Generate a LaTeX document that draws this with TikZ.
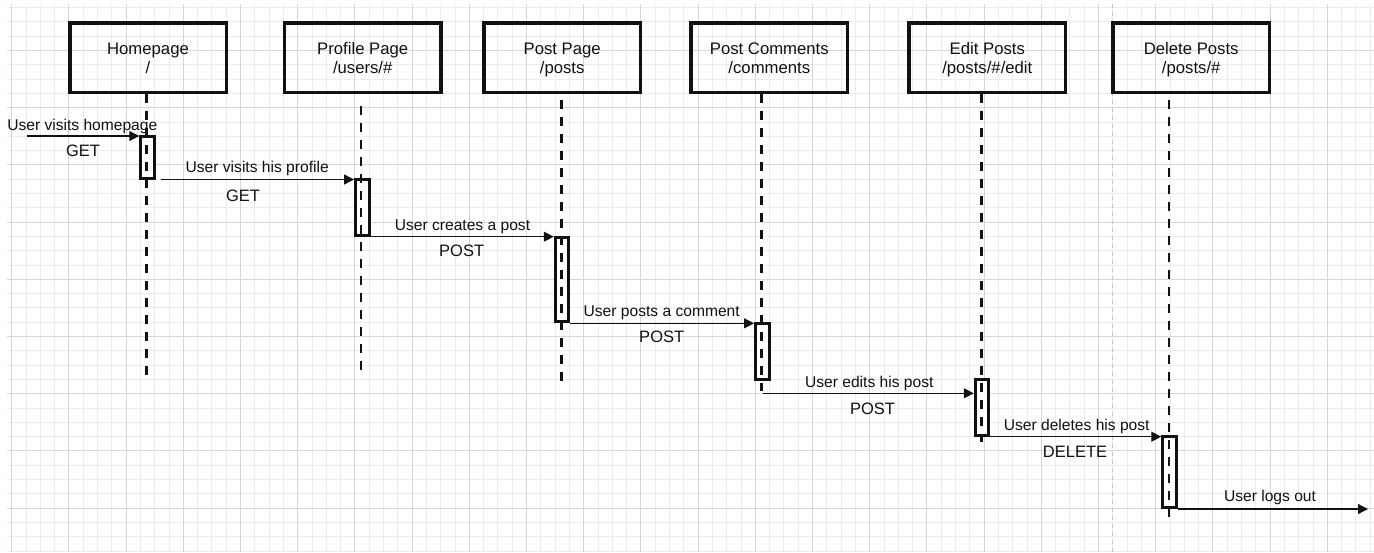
\documentclass[tikz,border=0pt]{standalone}
\usepackage{fontspec}
\setmainfont{Liberation Sans}
\usetikzlibrary{arrows.meta}
\definecolor{gridminor}{HTML}{ECECEC}
\definecolor{gridmajor}{HTML}{D6D6D6}
\definecolor{pagebreak}{HTML}{C4C4C4}
\definecolor{ink}{HTML}{111111}

\begin{document}
\begin{tikzpicture}[x=1pt,y=-1pt,
  headbox/.style={draw=ink, line width=3.5pt, minimum width=156.5pt, minimum height=69.5pt, inner sep=0pt},
  ttl/.style={anchor=base, inner sep=0pt, font=\fontsize{16.7}{19}\selectfont, text=ink},
  lbl/.style={anchor=base, inner sep=0pt, font=\fontsize{15.6}{18}\selectfont, text=ink},
  verb/.style={anchor=base, inner sep=0pt, font=\fontsize{16.5}{19}\selectfont, text=ink},
  actbox/.style={draw=ink, fill=white, line width=3pt, minimum width=13.5pt, inner sep=0pt},
  life/.style={draw=ink, line width=2.8pt, dash pattern=on 9pt off 8pt},
  msg/.style={draw=ink, line width=1.2pt, -{Triangle[length=10pt,width=10pt]}},
  gminor/.style={draw=gridminor, line width=0.9pt},
  gmajor/.style={draw=gridmajor, line width=0.9pt},
]
% canvas
\fill[white] (0,0) rectangle (1374,552);
\useasboundingbox (0,0) rectangle (1374,552);

% background grid
\begin{scope}
  \clip (7,4) rectangle (1374,552);
  \foreach \i in {0,...,95} \draw[gminor] ({11.7+14.3*\i},4) -- ({11.7+14.3*\i},552);
  \foreach \j in {0,...,38} \draw[gminor] (7,{7.6+14.3*\j}) -- (1374,{7.6+14.3*\j});
  \foreach \i in {0,...,23} \draw[gmajor] ({11.7+57.2*\i},4) -- ({11.7+57.2*\i},552);
  \foreach \j in {0,...,8} \draw[gmajor] (7,{50.5+57.2*\j}) -- (1374,{50.5+57.2*\j});
\end{scope}

% page break marker
\coordinate (pbtop) at (1112,4);
\coordinate (pbbot) at (1112,552);
\draw[pagebreak, line width=0.9pt, dash pattern=on 4pt off 4pt] (pbtop) -- (pbbot);

% participant heads
\node[headbox] (home) at (148,57.5) {};
\node[headbox] (prof) at (362.7,57.5) {};
\node[headbox] (post) at (562.2,57.5) {};
\node[headbox] (comm) at (769.3,57.5) {};
\node[headbox] (edit) at (987.3,57.5) {};
\node[headbox] (dele) at (1191.2,57.5) {};

\node[ttl] (homeA) at (148,54.5) {Homepage};
\node[ttl] (homeB) at (148,73.5) {/};
\node[ttl] (profA) at (362.7,54.5) {Profile Page};
\node[ttl] (profB) at (362.7,73.5) {/users/\#};
\node[ttl] (postA) at (562.2,54.5) {Post Page};
\node[ttl] (postB) at (562.2,73.5) {/posts};
\node[ttl] (commA) at (769.3,54.5) {Post Comments};
\node[ttl] (commB) at (769.3,73.5) {/comments};
\node[ttl] (editA) at (987.3,54.5) {Edit Posts};
\node[ttl] (editB) at (987.3,73.5) {/posts/\#/edit};
\node[ttl] (deleA) at (1191.2,54.5) {Delete Posts};
\node[ttl] (deleB) at (1191.2,73.5) {/posts/\#};

% activation bars
\node[actbox, minimum height=41.5pt] (a1) at (147.5,157.25) {};
\node[actbox, minimum height=55.7pt] (a2) at (362.3,207.35) {};
\node[actbox, minimum height=84.3pt] (a3) at (562,279.65) {};
\node[actbox, minimum height=55.7pt] (a4) at (762.3,351.35) {};
\node[actbox, minimum height=55.4pt] (a5) at (982,407.5) {};
\node[actbox, minimum height=71pt] (a6) at (1169.5,472) {};

% lifelines
\coordinate (s1) at (146.7,94);   \coordinate (e1) at (146.7,375);
\coordinate (s2) at (361,106);    \coordinate (e2) at (361,372);
\coordinate (s3) at (561.7,100);  \coordinate (e3) at (561.7,382);
\coordinate (s4) at (761.7,94);   \coordinate (e4) at (761.7,391);
\coordinate (s5) at (981.7,94);   \coordinate (e5) at (981.7,442);
\coordinate (s6) at (1169,100);   \coordinate (e6) at (1169,520);
\foreach \k in {1,...,6} \draw[life] (s\k) -- (e\k);

% redraw bar outlines over the lifelines
\foreach \k in {1,...,6} \draw[ink, line width=3pt] ([shift={(1.5pt,-1.5pt)}]a\k.north west) rectangle ([shift={(-1.5pt,1.5pt)}]a\k.south east);

% messages
\coordinate (entry) at (27,136);
\coordinate (m5) at (762.5,393.3);
\coordinate (exit) at (1368,509);
\draw[msg] (entry) -- (entry -| a1.west);
\draw[msg] ([xshift=5pt]a1.south east) -- (a1.south east -| a2.west);
\draw[msg] (a2.south east) -- (a2.south east -| a3.west);
\draw[msg] (a3.south east) -- (a3.south east -| a4.west);
\draw[msg] (m5) -- (m5 -| a5.west);
\draw[msg] (a5.south east) -- (a5.south east -| a6.west);
\draw[msg] (a6.south east) -- (exit);

% message labels
\node[lbl] (t1) at (82.3,130.5) {User visits homepage};
\node[verb] (v1) at (83,156.7) {GET};
\node[lbl] (t2) at (257.2,172.7) {User visits his profile};
\node[verb] (v2) at (243,201) {GET};
\node[lbl] (t3) at (462.5,230) {User creates a post};
\node[verb] (v3) at (461.7,256.7) {POST};
\node[lbl] (t4) at (661.7,316) {User posts a comment};
\node[verb] (v4) at (661.7,342.7) {POST};
\node[lbl] (t5) at (869.3,387.3) {User edits his post};
\node[verb] (v5) at (872.5,414.3) {POST};
\node[lbl] (t6) at (1076.7,430.7) {User deletes his post};
\node[verb] (v6) at (1075,457.3) {DELETE};
\node[lbl] (t7) at (1270,501.7) {User logs out};
\end{tikzpicture}
\end{document}
